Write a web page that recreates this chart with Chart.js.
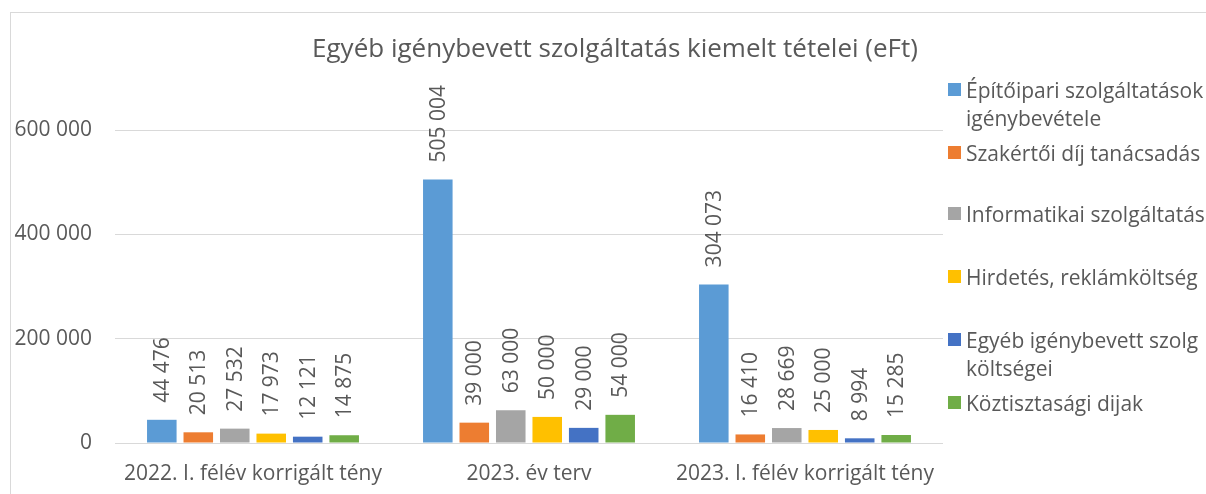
<!DOCTYPE html>
<html><head><meta charset="utf-8">
<script src="https://cdn.jsdelivr.net/npm/chart.js@4/dist/chart.umd.min.js"></script>
<style>
html,body{margin:0;padding:0;background:#fff;}
#wrap{position:relative;width:1206px;height:494px;overflow:hidden;}
#frame{position:absolute;left:10px;top:12px;width:1300px;height:600px;border:1px solid #d9d9d9;box-sizing:border-box;}
canvas{position:absolute;left:0;top:0;}
#legend{position:absolute;left:948px;top:0;font-family:"Open Sans",sans-serif;font-size:21px;color:#595959;}
.li{position:absolute;left:0;width:260px;line-height:28px;}
.sw{position:absolute;left:0;top:7px;width:13px;height:13px;}
.tx{position:absolute;left:18px;top:0;white-space:nowrap;}
</style></head>
<body><div id="wrap"><div id="frame"></div><canvas id="c" width="1206" height="494"></canvas><div id="legend"></div></div>
<script>
const categories = ["2022. I. félév korrigált tény", "2023. év terv", "2023. I. félév korrigált tény"];
const seriesNames = [["Építőipari szolgáltatások","igénybevétele"], ["Szakértői díj tanácsadás"], ["Informatikai szolgáltatás"], ["Hirdetés, reklámköltség"], ["Egyéb igénybevett szolg","költségei"], ["Köztisztasági dijak"]];
const seriesColors = ["#5B9BD5", "#ED7D31", "#A5A5A5", "#FFC000", "#4472C4", "#70AD47"];
const epitoipari = [44476, 505004, 304073];
const szakertoi = [20513, 39000, 16410];
const informatikai = [27532, 63000, 28669];
const hirdetes = [17973, 50000, 25000];
const egyeb = [12121, 29000, 8994];
const koztisztasagi = [14875, 54000, 15285];
const seriesValues = [epitoipari, szakertoi, informatikai, hirdetes, egyeb, koztisztasagi];
const yTicks = [0, 200000, 400000, 600000];
const titleText = "Egyéb igénybevett szolgáltatás kiemelt tételei (eFt)";

const FONT = '"Open Sans", sans-serif';
const TXT = '#595959';
function fmt(v){ return String(v).replace(/\B(?=(\d{3})+(?!\d))/g, ' '); }

const labelPlugin = {
  id:'barLabels',
  afterDatasetsDraw(chart){
    const ctx = chart.ctx;
    ctx.save();
    ctx.fillStyle = TXT;
    ctx.font = '21px ' + FONT;
    ctx.textAlign = 'left';
    ctx.textBaseline = 'middle';
    chart.data.datasets.forEach((ds, i) => {
      chart.getDatasetMeta(i).data.forEach((bar, j) => {
        ctx.save();
        ctx.translate(bar.x, bar.y - 17);
        ctx.rotate(-Math.PI/2);
        ctx.fillText(fmt(ds.data[j]), 0, 1);
        ctx.restore();
      });
    });
    ctx.restore();
  },
  afterDraw(chart){
    const ctx = chart.ctx;
    ctx.save();
    ctx.fillStyle = TXT;
    ctx.font = '26px ' + FONT;
    ctx.textAlign = 'center';
    ctx.textBaseline = 'middle';
    ctx.fillText(titleText, 615, 50);
    ctx.restore();
  }
};

new Chart(document.getElementById('c'), {
  type:'bar',
  data:{
    labels: categories,
    datasets: seriesValues.map((vals, i) => ({
      label: seriesNames[i].join(' '),
      data: vals,
      backgroundColor: seriesColors[i],
      borderWidth: 0,
      categoryPercentage: 0.793,
      barPercentage: 0.81
    }))
  },
  options:{
    responsive:false,
    animation:false,
    devicePixelRatio:1,
    layout:{padding:{left:0, right:263, top:130, bottom:0}},
    plugins:{legend:{display:false}, title:{display:false}, tooltip:{enabled:false}},
    scales:{
      x:{
        grid:{display:false},
        border:{display:false},
        ticks:{color:TXT, font:{family:FONT, size:21}, padding:10, maxRotation:0, autoSkip:false},
        afterFit(s){ s.height = 51; }
      },
      y:{
        min:0, max:600000,
        afterBuildTicks(s){ s.ticks = yTicks.map(v => ({value:v})); },
        grid:{color:'#d9d9d9', lineWidth:1, drawTicks:false},
        border:{display:false},
        ticks:{color:TXT, font:{family:FONT, size:21}, padding:23, callback:v => fmt(v)},
        afterFit(s){ s.width = 115; }
      }
    }
  },
  plugins:[labelPlugin]
});

const lg = document.getElementById('legend');
const tops = [76, 139, 200, 263, 326, 389];
seriesNames.forEach((n, i) => {
  const d = document.createElement('div');
  d.className = 'li';
  d.style.top = tops[i] + 'px';
  d.innerHTML = '<div class="sw" style="background:' + seriesColors[i] + '"></div><div class="tx">' + n.join('<br>') + '</div>';
  lg.appendChild(d);
});
</script>
</body></html>
